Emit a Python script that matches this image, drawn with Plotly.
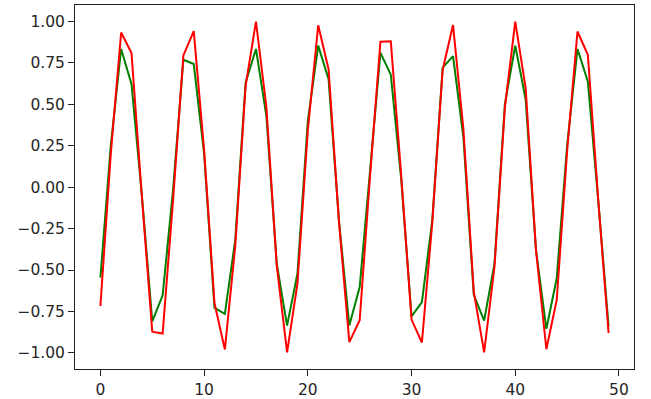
import plotly.graph_objects as go

x_values = list(range(50))

red_values = [-0.717, 0.20, 0.932, 0.808, -0.058, -0.872, -0.883, -0.083, 0.794, 0.941,
              0.223, -0.700, -0.979, -0.358, 0.610, 0.998, 0.486, -0.472, -0.997, -0.580,
              0.343, 0.976, 0.711, -0.207, -0.935, -0.803, 0.067, 0.876, 0.879, 0.074,
              -0.799, -0.937, -0.214, 0.706, 0.977, 0.350, -0.630, -0.997, -0.479, 0.480,
              0.998, 0.598, -0.380, -0.978, -0.680, 0.216, 0.938, 0.798, -0.076, -0.880]

green_values = [-0.546, 0.25, 0.833, 0.620, -0.05, -0.810, -0.653, -0.02, 0.768, 0.742,
                0.20, -0.728, -0.764, -0.32, 0.630, 0.833, 0.43, -0.46, -0.835, -0.52,
                0.40, 0.853, 0.65, -0.20, -0.835, -0.603, 0.10, 0.810, 0.678, 0.05,
                -0.780, -0.694, -0.20, 0.720, 0.790, 0.30, -0.650, -0.805, -0.46, 0.50,
                0.853, 0.530, -0.38, -0.855, -0.55, 0.25, 0.833, 0.637, -0.08, -0.840]

x_ticks = [0, 10, 20, 30, 40, 50]
y_ticks = [-1.0, -0.75, -0.5, -0.25, 0.0, 0.25, 0.5, 0.75, 1.0]

fig = go.Figure()
fig.add_trace(go.Scatter(x=x_values, y=green_values, mode="lines",
                         line=dict(color="#008000", width=2)))
fig.add_trace(go.Scatter(x=x_values, y=red_values, mode="lines",
                         line=dict(color="#ff0000", width=2)))

axis_common = dict(showgrid=False, zeroline=False, showline=True, linecolor="#222222",
                   linewidth=1, mirror=True, ticks="outside", ticklen=6, tickwidth=1,
                   tickcolor="#222222", automargin=False,
                   tickfont=dict(family="DejaVu Sans", size=15.5, color="#262626"))

fig.update_layout(
    width=651, height=399,
    margin=dict(l=75, r=17, t=5, b=30),
    paper_bgcolor="white", plot_bgcolor="white",
    showlegend=False,
    xaxis=dict(range=[-2.45, 51.45], tickvals=x_ticks, **axis_common),
    yaxis=dict(range=[-1.097, 1.098], tickvals=y_ticks, tickformat=".2f", **axis_common),
)

fig.write_html("out.html", config={"displayModeBar": False},
               post_script="document.body.style.margin='0px';document.body.style.overflow='hidden';")
